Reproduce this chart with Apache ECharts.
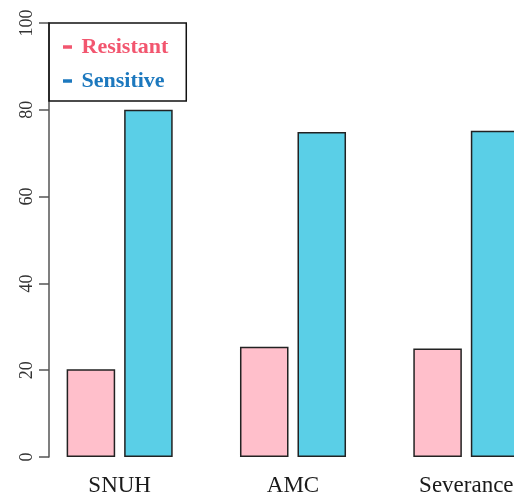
<!DOCTYPE html>
<html>
<head>
<meta charset="utf-8">
<script src="https://cdn.jsdelivr.net/npm/echarts@6/dist/echarts.min.js"></script>
<style>
  html, body { margin: 0; padding: 0; background: #fff; }
  #chart { width: 514px; height: 499px; }
</style>
</head>
<body>
<div id="chart"></div>
<script>
const categories = ['SNUH', 'AMC', 'Severance'];
const resistant = [20.2, 25.4, 25.0];
const sensitive = [80.0, 74.9, 75.2];
const yTicks = [0, 20, 40, 60, 80, 100];

const serif = '"Liberation Serif", "Times New Roman", serif';
const chart = echarts.init(document.getElementById('chart'));

chart.setOption({
    animation: false,
    grid: {
        left: 33,
        top: 23,
        bottom: 42,
        width: 520,
        outerBoundsMode: 'none',
        containLabel: false
    },
    legend: {
        left: 49,
        top: 23,
        orient: 'vertical',
        padding: [13, 18, 9, 14],
        itemGap: 12,
        itemWidth: 18,
        itemHeight: 3.5,
        borderColor: '#111',
        borderWidth: 1.5,
        icon: 'path://M0,0 h9 v3.5 h-9 z',
        textStyle: {
            fontFamily: serif,
            fontSize: 22,
            fontWeight: 'bold'
        },
        data: [
            { name: 'Resistant', itemStyle: { color: '#f2566f', borderWidth: 0 }, textStyle: { color: '#f2566f' } },
            { name: 'Sensitive', itemStyle: { color: '#1c78be', borderWidth: 0 }, textStyle: { color: '#1c78be' } }
        ]
    },
    xAxis: {
        type: 'category',
        data: categories,
        axisLine: { show: false },
        axisTick: { show: false },
        axisLabel: {
            margin: 17,
            fontFamily: serif,
            fontSize: 23,
            color: '#1a1a1a'
        }
    },
    yAxis: {
        type: 'value',
        min: 0,
        max: 100,
        interval: 20,
        offset: -16,
        splitLine: { show: false },
        axisLine: { show: true, lineStyle: { color: '#555', width: 1.5 } },
        axisTick: { show: true, length: 10, lineStyle: { color: '#555', width: 1.5 } },
        axisLabel: {
            rotate: 90,
            margin: 13,
            fontFamily: serif,
            fontSize: 18,
            color: '#333',
            formatter: v => yTicks.includes(v) ? String(v) : ''
        }
    },
    series: [
        {
            name: 'Resistant',
            type: 'bar',
            data: resistant,
            barWidth: '28%',
            barGap: '18.5%',
            itemStyle: { color: '#ffbfcb', borderColor: '#222', borderWidth: 1.5 }
        },
        {
            name: 'Sensitive',
            type: 'bar',
            data: sensitive,
            barWidth: '28%',
            itemStyle: { color: '#5acfe7', borderColor: '#222', borderWidth: 1.5 }
        }
    ]
});
</script>
</body>
</html>
